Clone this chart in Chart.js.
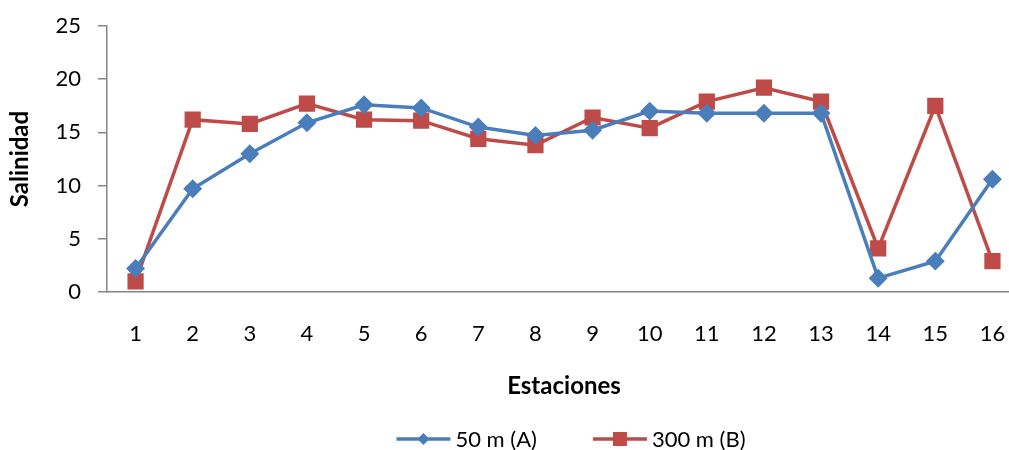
<!DOCTYPE html>
<html>
<head>
<meta charset="utf-8">
<script src="https://cdn.jsdelivr.net/npm/chart.js@4/dist/chart.umd.min.js"></script>
<style>
  html, body { margin: 0; padding: 0; background: #fff; overflow: hidden; }
  #wrap { width: 1130px; height: 450px; }
</style>
</head>
<body>
<div id="wrap"><canvas id="salinityChart"></canvas></div>
<script>
'use strict';

// Estaciones (eje X)
const stations = ['1', '2', '3', '4', '5', '6', '7', '8', '9', '10', '11', '12', '13', '14', '15', '16'];

// Salinidad por profundidad
const depth50 = [2.2, 9.7, 13.0, 15.9, 17.6, 17.3, 15.5, 14.7, 15.2, 17.0, 16.8, 16.8, 16.8, 1.3, 2.9, 10.6];
const depth300 = [1.0, 16.2, 15.8, 17.7, 16.2, 16.1, 14.4, 13.8, 16.4, 15.4, 17.9, 19.2, 17.9, 4.1, 17.5, 2.9];

const yTicks = [0, 5, 10, 15, 20, 25];

const colors = {
    blue: '#4A7EBB',
    red: '#BE4B48',
    axis: '#868686',
};

const FONT = 'Lato, "Open Sans", sans-serif';

// legend drawn as line + marker samples, like the spreadsheet one
const lineLegend = {
    id: 'lineLegend',
    afterDraw(chart) {
        const ctx = chart.ctx;
        const y = 439;
        const swatchW = 54;
        const textGap = 5;
        const itemGap = 56;
        ctx.save();
        ctx.font = '22px ' + FONT;
        ctx.textBaseline = 'middle';
        const items = chart.data.datasets.map(ds => ({
            ds,
            w: swatchW + textGap + ctx.measureText(ds.label).width
        }));
        const total = items.reduce((s, it) => s + it.w, 0) + itemGap * (items.length - 1);
        let x = chart.width / 2 + 6 - total / 2;
        items.forEach(({ ds, w }) => {
            ctx.strokeStyle = ds.borderColor;
            ctx.lineWidth = 3.5;
            ctx.beginPath();
            ctx.moveTo(x, y);
            ctx.lineTo(x + swatchW, y);
            ctx.stroke();
            ctx.fillStyle = ds.borderColor;
            const cx = x + swatchW / 2;
            if (ds.pointStyle === 'rect') {
                ctx.fillRect(cx - 7, y - 7, 14, 14);
            } else {
                ctx.beginPath();
                ctx.moveTo(cx, y - 6);
                ctx.lineTo(cx + 6, y);
                ctx.lineTo(cx, y + 6);
                ctx.lineTo(cx - 6, y);
                ctx.closePath();
                ctx.fill();
            }
            ctx.fillStyle = '#000';
            ctx.fillText(ds.label, x + swatchW + textGap, y + 1);
            x += w + itemGap;
        });
        ctx.restore();
    }
};

new Chart(document.getElementById('salinityChart'), {
    type: 'line',
    data: {
        labels: stations,
        datasets: [{
            label: '50 m (A)',
            data: depth50,
            borderColor: colors.blue,
            backgroundColor: colors.blue,
            borderWidth: 3.5,
            pointStyle: 'rectRot',
            pointRadius: 7,
            pointHoverRadius: 7,
            tension: 0,
        }, {
            label: '300 m (B)',
            data: depth300,
            borderColor: colors.red,
            backgroundColor: colors.red,
            borderWidth: 3.5,
            pointStyle: 'rect',
            pointRadius: 9,
            pointHoverRadius: 9,
            tension: 0,
        }]
    },
    options: {
        responsive: true,
        maintainAspectRatio: false,
        animation: false,
        layout: { padding: { top: 26, right: 109, left: 0, bottom: 40 } },
        scales: {
            x: {
                offset: true,
                grid: { display: false, drawTicks: false },
                border: { display: true, color: colors.axis, width: 1.5 },
                ticks: { color: '#000', padding: 29, font: { family: FONT, size: 22 } },
                afterFit(scale) {
                    scale.height = 118;
                },
                title: {
                    display: true,
                    text: 'Estaciones',
                    color: '#000',
                    padding: { top: 25, bottom: 9 },
                    font: { family: FONT, size: 24, weight: 'bold' }
                }
            },
            y: {
                min: 0,
                max: 25,
                afterBuildTicks(scale) {
                    scale.ticks = yTicks.map(v => ({ value: v }));
                },
                afterFit(scale) {
                    scale.width = 107;
                    scale.paddingTop = 0;
                    scale.paddingBottom = 0;
                },
                grid: {
                    drawOnChartArea: false,
                    drawTicks: true,
                    tickLength: 9,
                    tickColor: colors.axis,
                    lineWidth: 1.5
                },
                border: { display: true, color: colors.axis, width: 1.5 },
                ticks: { color: '#000', padding: 17, font: { family: FONT, size: 22 } },
                title: {
                    display: true,
                    text: 'Salinidad',
                    color: '#000',
                    padding: { top: 6, bottom: 0 },
                    font: { family: FONT, size: 24, weight: 'bold' }
                }
            }
        },
        plugins: {
            legend: { display: false },
            tooltip: { enabled: false }
        }
    },
    plugins: [lineLegend]
});
</script>
</body>
</html>
